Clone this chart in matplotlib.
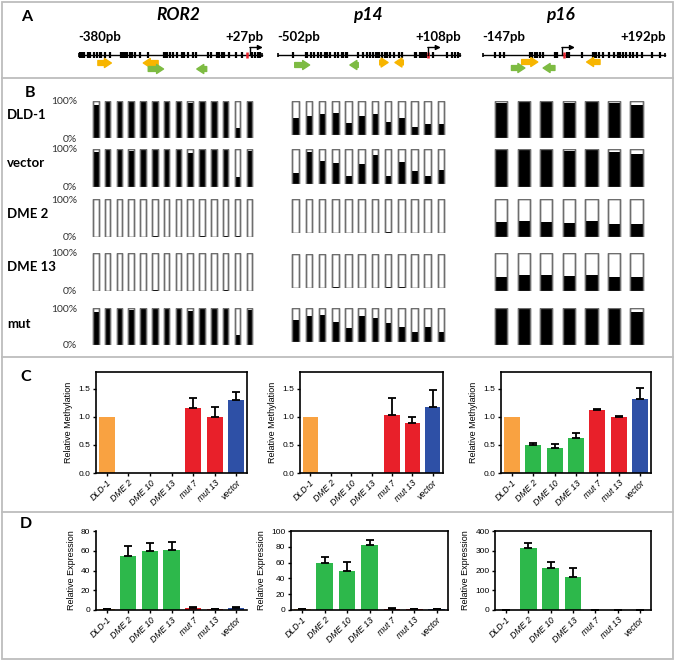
import matplotlib
matplotlib.use('Agg')
import matplotlib.pyplot as plt
import numpy as np
from matplotlib.lines import Line2D
from matplotlib.patches import Rectangle

W, H = 675, 661
fig = plt.figure(figsize=(6.75, 6.61), dpi=100)

def box(x0, y0, x1, y1):
    return [x0 / W, 1 - y1 / H, (x1 - x0) / W, (y1 - y0) / H]

# ---------------- DATA ----------------
genes = ['ROR2', 'p14', 'p16']
gene_start = [-380, -502, -147]
gene_end = [27, 108, 192]
ror2_cpg = [-377, -374, -371, -368, -360, -356, -346, -341, -334, -330, -323, -312,
            -286, -282, -278, -274, -267, -263, -256, -245, -226, -192, -189, -185,
            -178, -170, -163, -152, -146, -137, -127, -120, -92, -87, -72, -68, -62,
            -57, -47, -31, -18, 5, 11, 17, 23]
p14_cpg = [-452, -409, -404, -390, -382, -368, -357, -345, -338, -329, -312, -301,
           -289, -284, -275, -270, -233, -217, -205, -194, -183, -174, -170, -163,
           -155, -144, -138, -127, -114, -96, -87, -43, -38, -26, -21, -13, -6, 18,
           63, 80, 91, 102]
p16_cpg = [-125, -116, -107, -59, -55, -51, -46, -41, -36, -13, -9, 10, 13, 38, 57,
           61, 64, 69, 77, 88, 97, 105, 109, 114, 120, 127, 133, 139, 150, 167, 183]
tss_cpg = [-6, 0, 4]
# primers: (start bp, end bp, colour, row)
ror2_primers = [(-338, -308, 'y', 1), (-204, -237, 'y', 1), (-226, -192, 'g', 2), (-96, -118, 'g', 2)]
p14_primers = [(-446, -396, 'g', 2), (-233, -261, 'g', 2), (-161, -133, 'y', 1), (-82, -110, 'y', 1)]
p16_primers = [(-75, -45, 'y', 1), (-94, -69, 'g', 2), (-13, -35, 'g', 2), (71, 46, 'y', 1)]

samples_B = ['DLD-1', 'vector', 'DME 2', 'DME 13', 'mut']
ror2_meth = [
    [0.88, 1, 1, 0.97, 1, 1, 1, 1, 0.95, 0.97, 1, 1, 0.27, 0.96],
    [0.93, 1, 1, 0.95, 1, 1, 1, 1, 0.90, 0.98, 1, 1, 0.27, 0.94],
    [0, 0, 0, 0, 0, 0.02, 0, 0, 0, 0.02, 0, 0.02, 0.02, 0],
    [0, 0, 0.01, 0, 0, 0.02, 0, 0, 0, 0, 0, 0.02, 0.01, 0],
    [0.88, 0.98, 1, 0.95, 1, 1, 1, 0.97, 0.93, 0.97, 1, 1, 0.28, 0.95],
]
p14_meth = [
    [0.51, 0.56, 0.60, 0.65, 0.36, 0.56, 0.61, 0.38, 0.51, 0.24, 0.31, 0.31],
    [0.30, 0.93, 0.66, 0.59, 0.22, 0.56, 0.83, 0.22, 0.62, 0.38, 0.22, 0.40],
    [0, 0, 0, 0.02, 0, 0, 0, 0.03, 0.02, 0, 0.02, 0],
    [0.01, 0, 0, 0.02, 0, 0, 0, 0.04, 0.02, 0, 0, 0],
    [0.65, 0.75, 0.80, 0.60, 0.40, 0.75, 0.70, 0.55, 0.45, 0.30, 0.45, 0.30],
]
p16_meth = [
    [0.95, 1, 0.97, 0.94, 1, 0.95, 0.88],
    [0.97, 1, 0.97, 0.96, 1, 0.92, 0.88],
    [0.39, 0.42, 0.39, 0.37, 0.41, 0.35, 0.35],
    [0.38, 0.42, 0.41, 0.39, 0.41, 0.38, 0.37],
    [0.97, 0.99, 0.97, 0.96, 0.98, 0.96, 0.90],
]

cats = ['DLD-1', 'DME 2', 'DME 10', 'DME 13', 'mut 7', 'mut 13', 'vector']
bar_colors = ['#F9A241', '#2DB84B', '#2DB84B', '#2DB84B', '#E8202A', '#E8202A', '#2E50A6']

meth_ror2 = [1.0, 0, 0, 0, 1.16, 1.0, 1.30]
meth_ror2_err = [0, 0, 0, 0, 0.17, 0.18, 0.14]
meth_p14 = [1.0, 0, 0, 0, 1.04, 0.89, 1.18]
meth_p14_err = [0, 0, 0, 0, 0.30, 0.11, 0.30]
meth_p16 = [1.0, 0.50, 0.44, 0.62, 1.13, 0.99, 1.32]
meth_p16_err = [0, 0.03, 0.07, 0.09, 0.01, 0.03, 0.19]

expr_ror2 = [1.0, 54.5, 60.2, 61.2, 2.2, 1.1, 2.2]
expr_ror2_err = [0.4, 10, 7.5, 7.5, 0.5, 0.3, 0.6]
expr_p14 = [1.0, 59, 50, 82, 1.6, 1.4, 1.0]
expr_p14_err = [0.3, 8.5, 10.5, 6.5, 0.5, 0.4, 0.3]
expr_p16 = [1.0, 315, 215, 167, 0.5, 1.2, 1.0]
expr_p16_err = [0.5, 25, 27, 45, 0.3, 0.5, 0.8]

# ---------------- STYLE ----------------
YEL = '#F7B500'
GRN = '#7DBB42'
LBL_FONT = 'Lato'
PLOT_FONT = 'Liberation Sans'

# frame and separators
fig.add_artist(Rectangle((2 / W, 2 / H), (W - 4) / W, (H - 4) / H, transform=fig.transFigure,
                         fill=False, ec='#BDBDBD', lw=1.3))
for ysep in [78, 357, 512]:
    fig.add_artist(Line2D([2 / W, (W - 2) / W], [1 - ysep / H] * 2, transform=fig.transFigure,
                          color='#BDBDBD', lw=1.3))

for letter, (lx, ly) in zip('ABCD', [(27, 17), (30, 93), (26, 377), (26, 524)]):
    fig.text(lx / W, 1 - ly / H, letter, fontsize=11.5, fontweight='bold', family=LBL_FONT,
             ha='center', va='center')

# ---------------- PANEL A ----------------
A_x = [(79, 262), (278, 460), (483, 665)]
title_x = [178, 368, 560]
cpgs = [ror2_cpg, p14_cpg, p16_cpg]
primers = [ror2_primers, p14_primers, p16_primers]
prow = {'ROR2': {1: 18, 2: 24}, 'p14': {1: 17.5, 2: 20}, 'p16': {1: 17, 2: 23}}
for gi, g in enumerate(genes):
    x0, x1 = A_x[gi]
    ax = fig.add_axes(box(x0, 45, x1, 75))
    ax.set_xlim(gene_start[gi], gene_end[gi])
    ax.set_ylim(30, 0)
    ax.axis('off')
    bp_per_px = (gene_end[gi] - gene_start[gi]) / (x1 - x0)
    ax.plot([gene_start[gi], gene_end[gi]], [10, 10], color='black', lw=1.0, clip_on=False)
    ax.vlines([gene_start[gi], gene_end[gi]], 8, 12, color='black', lw=1.2, clip_on=False)
    ax.vlines(cpgs[gi], 7.2, 12.8, color='black', lw=1.6, clip_on=False)
    ax.vlines([tss_cpg[gi]], 6.8, 13.2, color='#E8202A', lw=1.8, clip_on=False)
    tss = 0
    ax.plot([tss, tss], [10, 2.5], color='black', lw=1.0, clip_on=False)
    ax.annotate('', xy=(tss + 13 * bp_per_px, 2.5), xytext=(tss, 2.5), annotation_clip=False,
                arrowprops=dict(arrowstyle='-|>', lw=1.0, color='black', mutation_scale=7,
                                shrinkA=0, shrinkB=0))
    for (s, e, c, r) in primers[gi]:
        ax.annotate('', xy=(e, prow[g][r]), xytext=(s, prow[g][r]), annotation_clip=False,
                    arrowprops=dict(arrowstyle='simple,head_length=0.5,head_width=0.65,tail_width=0.35',
                                    color=YEL if c == 'y' else GRN, mutation_scale=10,
                                    shrinkA=0, shrinkB=0))
    fig.text(title_x[gi] / W, 1 - 15 / H, g, fontsize=12.5, fontweight='bold', style='italic',
             family=LBL_FONT, ha='center', va='center')
    fig.text((x0 - 1) / W, 1 - 37 / H, f'{gene_start[gi]}pb', fontsize=9.5, fontweight='bold',
             family=LBL_FONT, ha='left', va='center')
    fig.text((x1 + 1) / W, 1 - 37 / H, f'+{gene_end[gi]}pb', fontsize=9.5, fontweight='bold',
             family=LBL_FONT, ha='right', va='center')

# ---------------- PANEL B ----------------
B_rows = {
    'ROR2': [(100.7, 138), (149, 187), (199, 237), (253, 291), (308, 345)],
    'p14': [(100.7, 135), (149.3, 183.7), (199.3, 233.3), (254, 288), (308, 342)],
    'p16': [(100.7, 138), (149, 187), (199, 237), (253, 291), (308, 345)],
}
B_x = {'ROR2': (89.9, 255.2), 'p14': (289.1, 447.6), 'p16': (489.9, 647.8)}
B_w = {'ROR2': 0.47, 'p14': 0.5, 'p16': 0.55}
meths = {'ROR2': ror2_meth, 'p14': p14_meth, 'p16': p16_meth}
for g in genes:
    for ri, samp in enumerate(samples_B):
        y0, y1 = B_rows[g][ri]
        x0, x1 = B_x[g]
        ax = fig.add_axes(box(x0, y0, x1, y1))
        vals = meths[g][ri]
        n = len(vals)
        xs = np.arange(n)
        ax.bar(xs, np.ones(n), width=B_w[g], color='white', edgecolor='#6E6E6E', lw=1.0)
        ax.bar(xs, vals, width=B_w[g], color='black', edgecolor='none')
        ax.bar(xs, np.ones(n), width=B_w[g], color='none', edgecolor='#6E6E6E', lw=1.0)
        ax.set_xlim(-0.5, n - 0.5)
        ax.set_ylim(0, 1)
        ax.axis('off')

row_label_y = [115, 163, 214, 267, 324]
for ri, samp in enumerate(samples_B):
    y0, y1 = B_rows['ROR2'][ri]
    fig.text(7 / W, 1 - row_label_y[ri] / H, samp, fontsize=9.5, fontweight='bold',
             family=LBL_FONT, ha='left', va='center')
    fig.text(77 / W, 1 - (y0 + 1) / H, '100%', fontsize=7.5, family=LBL_FONT, color='#333333',
             ha='right', va='center')
    fig.text(77 / W, 1 - (y1 + 1) / H, '0%', fontsize=7.5, family=LBL_FONT, color='#333333',
             ha='right', va='center')

# ---------------- PANELS C and D ----------------
def bar_panel(rect, vals, errs, ylim, yticks, ylabel, fmt, full_box=True):
    ax = fig.add_axes(box(*rect))
    xs = np.arange(len(vals))
    ax.bar(xs, vals, width=0.75, color=bar_colors)
    v = np.array(vals, float)
    e = np.array(errs, float)
    m = e > 0
    ax.errorbar(xs[m], v[m], yerr=[np.zeros(m.sum()), e[m]], fmt='none', ecolor='black',
                elinewidth=1.3, capsize=3, capthick=1.3)
    ax.set_xlim(-0.5, len(vals) - 0.5)
    ax.set_ylim(*ylim)
    ax.set_yticks(yticks)
    ax.set_yticklabels([fmt.format(t) for t in yticks], fontsize=6, family=PLOT_FONT)
    ax.set_xticks(xs)
    ax.set_xticklabels(cats, rotation=45, ha='right', rotation_mode='anchor', fontsize=6.3,
                       family=PLOT_FONT, style='italic')
    ax.set_ylabel(ylabel, fontsize=6.5, family=PLOT_FONT, labelpad=4)
    ax.tick_params(length=2.5, width=1.0, pad=1.5)
    for s in ax.spines.values():
        s.set_linewidth(1.2)
    if not full_box:
        ax.spines['top'].set_visible(False)
        ax.spines['right'].set_visible(False)
    return ax

C_rects = [(96, 372, 247, 473), (300, 372, 443, 473), (501, 372, 651, 473)]
meth_vals = [meth_ror2, meth_p14, meth_p16]
meth_errs = [meth_ror2_err, meth_p14_err, meth_p16_err]
for i in range(3):
    bar_panel(C_rects[i], meth_vals[i], meth_errs[i], (0, 1.8), [0.0, 0.5, 1.0, 1.5],
              'Relative Methylation', '{:.1f}')

D_rects = [(96, 531, 247, 610), (291, 531, 448, 610), (495, 531, 651, 610)]
expr_vals = [expr_ror2, expr_p14, expr_p16]
expr_errs = [expr_ror2_err, expr_p14_err, expr_p16_err]
D_ylims = [(0, 80), (0, 100), (0, 400)]
D_ticks = [[0, 20, 40, 60, 80], [0, 20, 40, 60, 80, 100], [0, 100, 200, 300, 400]]
for i in range(3):
    bar_panel(D_rects[i], expr_vals[i], expr_errs[i], D_ylims[i], D_ticks[i],
              'Relative Expression', '{:d}', full_box=(i != 0))

fig.savefig('out.png', dpi=100)
